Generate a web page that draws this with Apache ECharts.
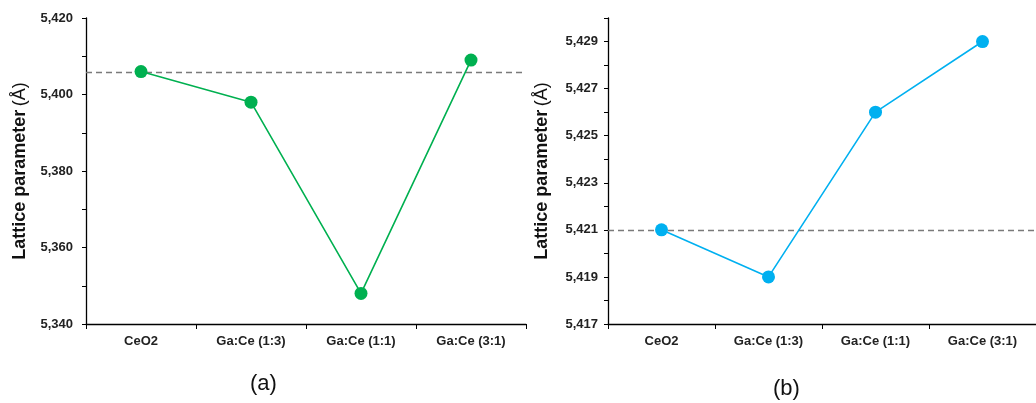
<!DOCTYPE html>
<html>
<head>
<meta charset="utf-8">
<script src="https://cdn.jsdelivr.net/npm/echarts@6/dist/echarts.min.js"></script>
<style>
  html, body { margin: 0; padding: 0; background: #fff; }
  #chart { width: 1036px; height: 403px; }
</style>
</head>
<body>
<div id="chart"></div>
<script>
// Sample categories shared by both panels
const categories = ['CeO2', 'Ga:Ce (1:3)', 'Ga:Ce (1:1)', 'Ga:Ce (3:1)'];

// Panel (a): lattice parameter values
const seriesA = [5.406, 5.398, 5.348, 5.409];
const refA = 5.4058;

// Panel (b): lattice parameter values
const seriesB = [5.421, 5.419, 5.426, 5.429];
const refB = 5.421;

const FONT = '"Liberation Sans", Arial, sans-serif';

function fmtComma(v, dec) {
  return v.toFixed(dec).replace('.', ',');
}

function yAxisCfg(gridIndex, min, max, step, labelEvery, dec, labelMargin) {
  return {
    type: 'value',
    gridIndex: gridIndex,
    min: min, max: max, interval: step,
    name: '{b|Lattice parameter} {r|(Å)}',
    nameLocation: 'middle',
    nameGap: 57,
    nameTextStyle: {
      rich: {
        b: { fontFamily: FONT, fontSize: 18, fontWeight: 'bold', color: '#111' },
        r: { fontFamily: FONT, fontSize: 18, fontWeight: 'normal', color: '#111' }
      }
    },
    axisLine: { show: true, lineStyle: { color: '#000', width: 1.3 } },
    axisTick: { show: true, inside: false, length: 4, lineStyle: { color: '#000', width: 1 } },
    splitLine: { show: false },
    axisLabel: {
      margin: labelMargin,
      fontFamily: FONT, fontSize: 13, fontWeight: 'bold', color: '#222',
      formatter: function (v) {
        const k = Math.round((v - min) / step);
        return k % labelEvery === 0 ? fmtComma(v, dec) : '';
      }
    }
  };
}

function xAxisCfg(gridIndex) {
  return {
    type: 'category',
    gridIndex: gridIndex,
    data: categories,
    boundaryGap: true,
    axisLine: { show: true, lineStyle: { color: '#000', width: 1.3 } },
    axisTick: { show: true, length: 5, alignWithLabel: false, lineStyle: { color: '#000', width: 1 } },
    axisLabel: { margin: 11, fontFamily: FONT, fontSize: 13, fontWeight: 'bold', color: '#222' }
  };
}

function lineSeries(idx, data, color, ref) {
  return {
    type: 'line',
    xAxisIndex: idx, yAxisIndex: idx,
    data: data,
    symbol: 'circle', symbolSize: 13,
    lineStyle: { color: color, width: 1.6 },
    itemStyle: { color: color },
    z: 3,
    markLine: {
      silent: true, symbol: 'none', precision: 5, label: { show: false },
      lineStyle: { color: '#7a7a7a', type: [6, 4], width: 1.4 },
      data: [{ yAxis: ref }],
      z: 2
    }
  };
}

const chart = echarts.init(document.getElementById('chart'), null, { renderer: 'canvas' });
chart.setOption({
  animation: false,
  backgroundColor: '#fff',
  grid: [
    { left: 86, top: 18, width: 440, bottom: 79 },
    { left: 608, top: 18, width: 437, bottom: 79 }
  ],
  xAxis: [xAxisCfg(0), xAxisCfg(1)],
  yAxis: [
    yAxisCfg(0, 5.34, 5.42, 0.01, 2, 3, 13),
    yAxisCfg(1, 5.417, 5.430, 0.001, 2, 3, 10)
  ],
  series: [
    lineSeries(0, seriesA, '#00b050', refA),
    lineSeries(1, seriesB, '#00b0f0', refB)
  ],
  graphic: [
    { type: 'text', left: 250, top: 373, style: { text: '(a)', font: '22px ' + FONT, fill: '#111' } },
    { type: 'text', left: 773, top: 378, style: { text: '(b)', font: '22px ' + FONT, fill: '#111' } }
  ]
});
</script>
</body>
</html>
